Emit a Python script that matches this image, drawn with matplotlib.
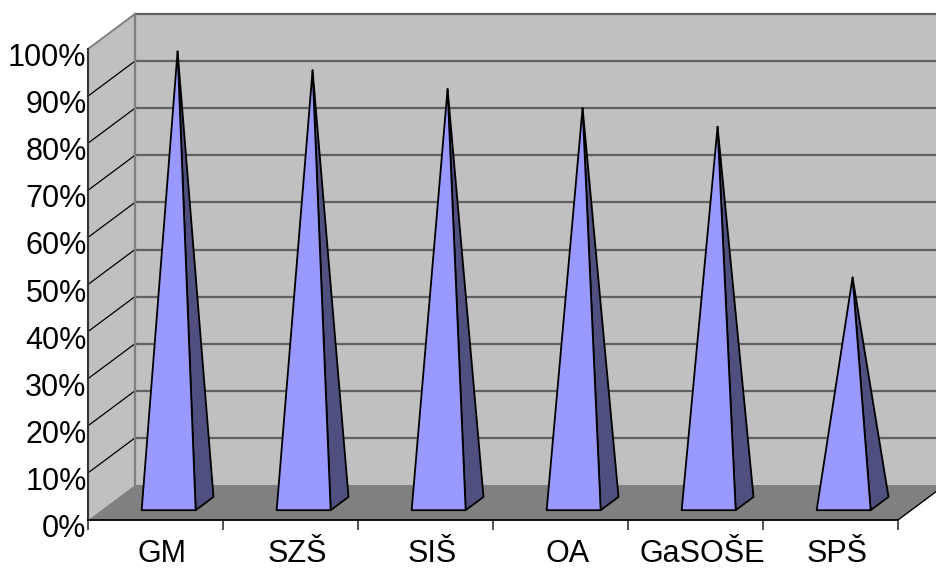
import matplotlib.pyplot as plt
from matplotlib.patches import Polygon
from matplotlib.transforms import ScaledTranslation

plt.rcParams['font.family'] = ['Liberation Sans', 'DejaVu Sans']

categories = ["GM", "SZŠ", "SIŠ", "OA", "GaSOŠE", "SPŠ"]
values = [96, 92, 88, 84, 80, 48]          # percent
y_ticks = list(range(0, 101, 10))
y_labels = [f"{v}%" for v in y_ticks]

# oblique depth vector (in data units: categories, percent)
DX = 0.348
DY = 7.43

WALL = "#C0C0C0"
FLOOR = "#808080"
GRID = "#606060"
FRONT = "#9999FF"
SIDE = "#4F4F80"


def proj(x, v, d):
    # x in category units, v in percent, d depth fraction 0..1
    return (x + d * DX, v + d * DY)


fig = plt.figure(figsize=(9.36, 5.69), dpi=100)
ax = fig.add_axes([88 / 936, 49 / 569, 810 / 936, 471 / 569])
ax.set_xlim(0, len(categories))
ax.set_ylim(0, 100)
ax.patch.set_visible(False)

n = len(categories)
kw = dict(clip_on=False)

# back wall
ax.add_patch(Polygon([proj(0, 0, 1), proj(0, 100, 1), proj(n, 100, 1), proj(n, 0, 1)],
                     closed=True, fc=WALL, ec="none", zorder=0, **kw))
# side wall
ax.add_patch(Polygon([proj(0, 0, 0), proj(0, 100, 0), proj(0, 100, 1), proj(0, 0, 1)],
                     closed=True, fc=WALL, ec="none", zorder=0, **kw))
# floor
ax.add_patch(Polygon([proj(0, 0, 0), proj(n, 0, 0), proj(n, 0, 1), proj(0, 0, 1)],
                     closed=True, fc=FLOOR, ec="none", zorder=0.5, **kw))

# gridlines on back wall and side wall
for v in y_ticks[1:]:
    x0, y0 = proj(0, v, 1)
    x1, y1 = proj(n, v, 1)
    ax.plot([x0, x1], [y0, y1], color=GRID, lw=1.6, zorder=0.2, **kw)
    xa, ya = proj(0, v, 0)
    col = "#808080" if v == 100 else "black"
    ax.plot([xa, x0], [ya, y0], color=col, lw=0.9 if v < 100 else 1.4, zorder=0.3, **kw)

# back wall left edge
xb0, yb0 = proj(0, 0, 1)
xb1, yb1 = proj(0, 100, 1)
ax.plot([xb0, xb1], [yb0, yb1], color="#808080", lw=1.6, zorder=0.3, **kw)

# floor edges
xr0, yr0 = proj(n, 0, 0)
xr1, yr1 = proj(n, 0, 1)
ax.plot([xr0, xr1], [yr0, yr1], color="black", lw=1.0, zorder=0.6, **kw)

# pyramids
for i, v in enumerate(values):
    xl, xr = i + 0.3, i + 0.7
    dfront, dback = 0.28, 0.66
    apex = proj(i + 0.5, v, (dfront + dback) / 2)
    fl = proj(xl, 0, dfront)
    fr = proj(xr, 0, dfront)
    br = proj(xr, 0, dback)
    ax.add_patch(Polygon([fr, br, apex], closed=True, fc=SIDE, ec="black",
                         lw=1.3, joinstyle="round", zorder=2, **kw))
    ax.add_patch(Polygon([fl, fr, apex], closed=True, fc=FRONT, ec="black",
                         lw=1.3, joinstyle="round", zorder=2.1, **kw))

# axes / spines
for s in ["top", "right"]:
    ax.spines[s].set_visible(False)
ax.spines["left"].set_color("#333333")
ax.spines["left"].set_linewidth(1.5)
ax.spines["bottom"].set_color("black")
ax.spines["bottom"].set_linewidth(1.3)
ax.spines["left"].set_zorder(3)
ax.spines["bottom"].set_zorder(3)

ax.set_yticks(y_ticks)
ax.set_yticklabels(y_labels, fontsize=22)
ax.tick_params(axis="y", length=0, pad=1)
off = ScaledTranslation(0, -4 / 72, fig.dpi_scale_trans)
for lab in ax.get_yticklabels():
    lab.set_transform(lab.get_transform() + off)

ax.set_xticks(range(n + 1))
ax.set_xticklabels([""] * (n + 1))
ax.tick_params(axis="x", which="major", length=7, width=1.2, color="#333333")
ax.set_xticks([i + 0.55 for i in range(n)], minor=True)
ax.set_xticklabels(categories, minor=True, fontsize=22)
ax.tick_params(axis="x", which="minor", length=0, pad=14)

fig.savefig("out.png", dpi=100)
print("saved: out.png")
